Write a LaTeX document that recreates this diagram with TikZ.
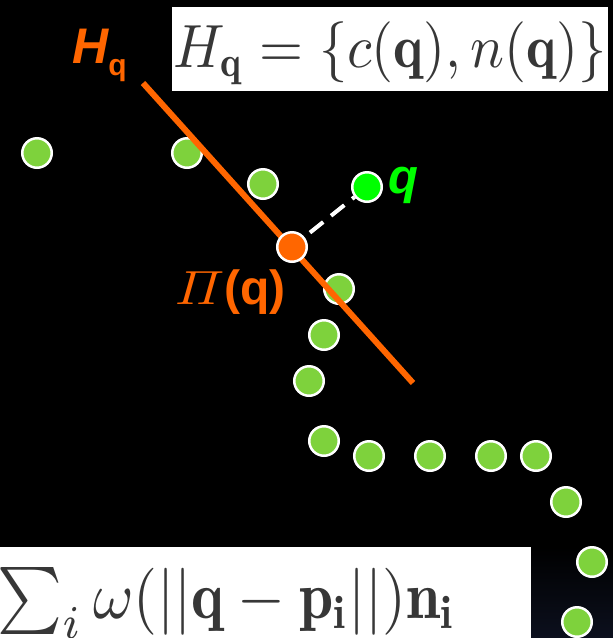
\documentclass[tikz,border=0pt]{standalone}
\usepackage{amsmath}
\usepackage{graphicx}
\usepackage{fontspec}
\setsansfont{Liberation Sans}
\definecolor{dotgreen}{RGB}{126,210,60}
\definecolor{qgreen}{RGB}{0,255,0}
\definecolor{hor}{RGB}{255,102,0}
\definecolor{ftext}{RGB}{55,55,55}
\definecolor{navy}{RGB}{12,16,30}
\begin{document}
\begin{tikzpicture}[x=1pt,y=-1pt,
  sample/.style={circle,draw=white,line width=2.5pt,fill=dotgreen,minimum size=29.5pt,inner sep=0pt},
  qdot/.style={sample,fill=qgreen},
  pidot/.style={sample,fill=hor},
  plane/.style={draw=hor,line width=6pt},
  proj/.style={draw=white,line width=4pt,dash pattern=on 17pt off 10pt},
  formbox/.style={fill=white},
  formula/.style={text=ftext,inner sep=0pt,font=\fontsize{10}{12}\selectfont},
  lbl/.style={inner sep=0pt,font=\sffamily\bfseries}]
\fill[black] (0,0) rectangle (613,638);
\useasboundingbox (0,0) rectangle (613,638);
\shade[top color=black,bottom color=navy] (531,547) rectangle (613,638);
% formula boxes
\fill[formbox] (172,7) rectangle (608,91);
\node[formula,anchor=base west] (f1) at (173,67) {\scalebox{5.65}[6.1]{$H_{\mathbf q} = \{c(\mathbf q), n(\mathbf q)\}$}};
\fill[formbox] (0,547) rectangle (531,638);
\begin{scope}
\clip (0,547) rectangle (531,638);
\node[formula,anchor=base east] (f2) at (456,618) {\scalebox{6.15}[6.7]{$\sum_i \omega(||\mathbf q - \mathbf p_{\mathbf i}||)\mathbf n_{\mathbf i}$}};
\end{scope}
% samples
\node[sample] (p1) at (37,153) {};
\node[sample] (p2) at (187,153) {};
\node[sample] (p3) at (263,184) {};
\node[sample] (p4) at (339,289) {};
\node[sample] (p5) at (324,335) {};
\node[sample] (p6) at (309,381) {};
\node[sample] (p7) at (324,441) {};
\node[sample] (p8) at (369,456) {};
\node[sample] (p9) at (430,456) {};
\node[sample] (p10) at (491,456) {};
\node[sample] (p11) at (536,456) {};
\node[sample] (p12) at (566,502) {};
\node[sample] (p13) at (592,562) {};
\node[sample] (p14) at (577,622) {};
% plane
\coordinate (ls) at (143,83);
\coordinate (le) at (413,383);
\draw[plane] (ls) -- (le);
% query and projection
\node[qdot] (q) at (367,187) {};
\node[pidot] (pi) at (292,247) {};
\draw[proj,shorten <=7pt] (pi) -- (q);
% labels
\node[lbl,text=hor,anchor=base west] (hl) at (72,63) {{\fontsize{50}{54}\selectfont\itshape H}\raisebox{-12pt}{\fontsize{30}{32}\selectfont q}};
\node[lbl,text=qgreen,anchor=base west] (ql) at (388,193) {\fontsize{49}{52}\selectfont\itshape q};
\node[lbl,text=hor,anchor=base west] (pil) at (175,304) {\scalebox{5.4}[4.8]{$\varPi$}{\fontsize{48}{50}\selectfont(q)}};
\end{tikzpicture}
\end{document}
